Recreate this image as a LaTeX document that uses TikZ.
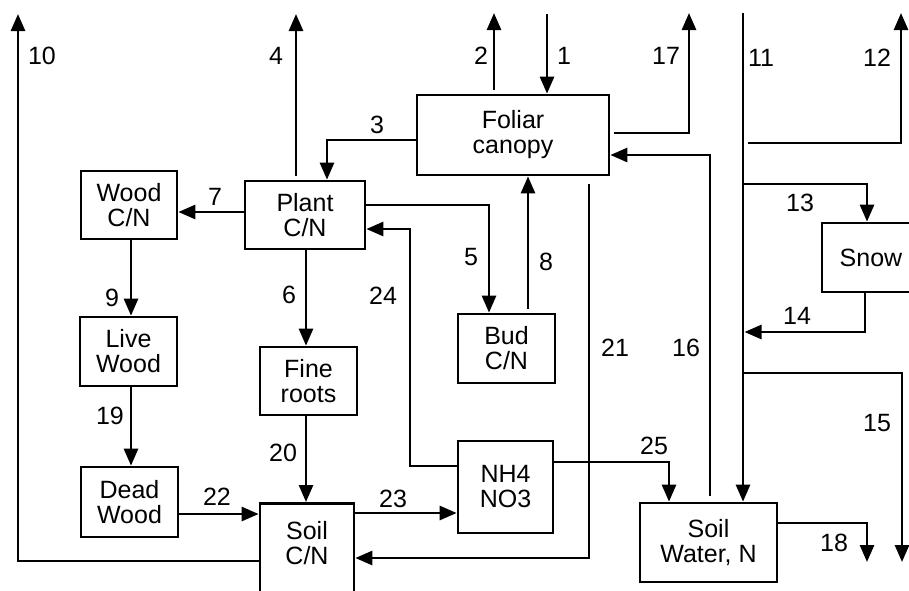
\documentclass[tikz,border=0pt]{standalone}
\usepackage{fontspec}
\setmainfont{Liberation Sans}
\usepackage{tikz}
\usetikzlibrary{arrows.meta,calc}

\begin{document}
\begin{tikzpicture}[x=1pt,y=-1pt]
  \tikzset{
    cnbox/.style={
      draw=black,
      line width=2.7pt,
      fill=white,
      align=center,
      inner sep=0pt,
      font=\fontsize{25}{25}\selectfont
    },
    cnflow/.style={
      -{Triangle[length=17pt,width=14pt]},
      draw=black,
      line width=2.7pt
    },
    cnline/.style={draw=black,line width=2.7pt},
    cngap/.style={shorten <=4pt},
    cnlabel/.style={font=\fontsize{25}{25}\selectfont,inner sep=0pt}
  }

  \useasboundingbox (0,0) rectangle (909,590);
  \clip (0,0) rectangle (909,590);

  % ------------------------------------------------------------------
  % Pools
  % ------------------------------------------------------------------
  \node[cnbox,minimum width=192pt,minimum height=80pt] (foliar) at (513,135)
    {Foliar\\canopy};
  \node[cnbox,minimum width=120pt,minimum height=68pt] (plant) at (305,215)
    {Plant\\C/N};
  \node[cnbox,minimum width=96pt,minimum height=68pt] (wood) at (129,205)
    {Wood\\C/N};
  \node[cnbox,minimum width=97pt,minimum height=69pt] (livewood) at (128.5,351.5)
    {Live\\Wood};
  \node[cnbox,minimum width=97pt,minimum height=68pt] (fineroots) at (308.5,381)
    {Fine\\roots};
  \node[cnbox,minimum width=97pt,minimum height=69pt] (bud) at (506.5,348.5)
    {Bud\\C/N};
  \node[cnbox,minimum width=95pt,minimum height=92pt] (nh4) at (505.5,487)
    {NH4\\NO3};
  \node[cnbox,minimum width=97pt,minimum height=70pt] (dead) at (129.5,502)
    {Dead\\Wood};
  \node[cnbox,minimum width=94pt,minimum height=160pt,anchor=north,
        label={[cnlabel,align=center,anchor=north,yshift=-19pt]north:{Soil\\C/N}}]
    (soilcn) at (307,502) {};
  \node[cnbox,minimum width=137pt,minimum height=79pt] (soilwater) at (708.5,542.5)
    {Soil\\Water, N};
  \node[cnbox,minimum width=98pt,minimum height=69pt] (snow) at (871,257.5)
    {Snow};

  % ------------------------------------------------------------------
  % Bends and free ends
  % ------------------------------------------------------------------
  \coordinate (src1) at (547,14);
  \coordinate (out2) at (494,13);
  \coordinate (c3) at (327,140);
  \coordinate (out4) at (296,14);
  \coordinate (c5) at (489,205);
  \coordinate (c6) at (306,0);
  \coordinate (c7) at (0,212);
  \coordinate (c8) at (528,0);
  \coordinate (c9) at (131,0);
  \coordinate (c10) at (18,561);
  \coordinate (out10) at (18,14);
  \coordinate (src11) at (743,13);
  \coordinate (b12) at (748,143);
  \coordinate (c12) at (901,143);
  \coordinate (out12) at (901,13);
  \coordinate (b13) at (743,184);
  \coordinate (c13) at (867,184);
  \coordinate (c14) at (865,332);
  \coordinate (b14) at (744.5,332);
  \coordinate (b15) at (743,373);
  \coordinate (c15) at (902,373);
  \coordinate (out15) at (902,562);
  \coordinate (c16) at (710,155);
  \coordinate (c17) at (689,133);
  \coordinate (out17) at (689,13);
  \coordinate (c18) at (867,523);
  \coordinate (out18) at (867,562);
  \coordinate (c21) at (589,558);
  \coordinate (c22) at (0,514);
  \coordinate (c23) at (0,513);
  \coordinate (c24) at (410,466);
  \coordinate (d24) at (410,229);
  \coordinate (c25) at (669,462);

  % ------------------------------------------------------------------
  % Fluxes
  % ------------------------------------------------------------------
  \draw[cnflow] (src1) -- (src1 |- foliar.north);
  \draw[cnflow,cngap] (out2 |- foliar.north) -- (out2);
  \draw[cnflow] (foliar.west |- c3) -- (c3) -- (c3 |- plant.north);
  \draw[cnflow,cngap] (out4 |- plant.north) -- (out4);
  \draw[cnflow] (plant.east |- c5) -- (c5) -- (c5 |- bud.north);
  \draw[cnflow] (plant.south -| c6) -- (fineroots.north -| c6);
  \draw[cnflow] (plant.west |- c7) -- (wood.east |- c7);
  \draw[cnflow,cngap] (bud.north -| c8) -- (foliar.south -| c8);
  \draw[cnflow] (wood.south -| c9) -- (livewood.north -| c9);
  \draw[cnflow] (soilcn.west |- c10) -- (c10) -- (out10);
  \draw[cnflow] (src11) -- (src11 |- soilwater.north);
  \draw[cnflow] (b12) -- (c12) -- (out12);
  \draw[cnflow] (b13) -- (c13) -- (c13 |- snow.north);
  \draw[cnflow] (snow.south -| c14) -- (c14) -- (b14);
  \draw[cnflow] (b15) -- (c15) -- (out15);
  \draw[cnflow,shorten <=6pt] (soilwater.north -| c16) -- (c16) -- (foliar.east |- c16);
  \draw[cnflow,cngap] (foliar.east |- c17) -- (c17) -- (out17);
  \draw[cnflow] (soilwater.east |- c18) -- (c18) -- (out18);
  \draw[cnflow] (livewood.south -| c9) -- (dead.north -| c9);
  \draw[cnflow] (fineroots.south -| c6) -- (soilcn.north -| c6);
  \draw[cnflow,shorten <=8pt] (foliar.south -| c21) -- (c21) -- (soilcn.east |- c21);
  \draw[cnflow] (dead.east |- c22) -- (soilcn.west |- c22);
  \draw[cnflow] (soilcn.east |- c23) -- (nh4.west |- c23);
  \draw[cnflow] (nh4.west |- c24) -- (c24) -- (d24) -- (plant.east |- d24);
  \draw[cnflow] (nh4.east |- c25) -- (c25) -- (c25 |- soilwater.north);

  % Flux numbers
  \node[cnlabel] (n1) at (564,56) {1};
  \node[cnlabel] (n2) at (481,56) {2};
  \node[cnlabel] (n3) at (377,125) {3};
  \node[cnlabel] (n4) at (276,56) {4};
  \node[cnlabel] (n5) at (471,257) {5};
  \node[cnlabel] (n6) at (289,295) {6};
  \node[cnlabel] (n7) at (215,197) {7};
  \node[cnlabel] (n8) at (546,262) {8};
  \node[cnlabel] (n9) at (112,298) {9};
  \node[cnlabel] (n10) at (42,56) {10};
  \node[cnlabel] (n11) at (761,58) {11};
  \node[cnlabel] (n12) at (877,58) {12};
  \node[cnlabel] (n13) at (800,203) {13};
  \node[cnlabel] (n14) at (797,316) {14};
  \node[cnlabel] (n15) at (877,423) {15};
  \node[cnlabel] (n16) at (686,348) {16};
  \node[cnlabel] (n17) at (666,56) {17};
  \node[cnlabel] (n18) at (834,543) {18};
  \node[cnlabel] (n19) at (110,416) {19};
  \node[cnlabel] (n20) at (283,453) {20};
  \node[cnlabel] (n21) at (615,348) {21};
  \node[cnlabel] (n22) at (217,497) {22};
  \node[cnlabel] (n23) at (393,499) {23};
  \node[cnlabel] (n24) at (383,296) {24};
  \node[cnlabel] (n25) at (654,446) {25};
\end{tikzpicture}
\end{document}
